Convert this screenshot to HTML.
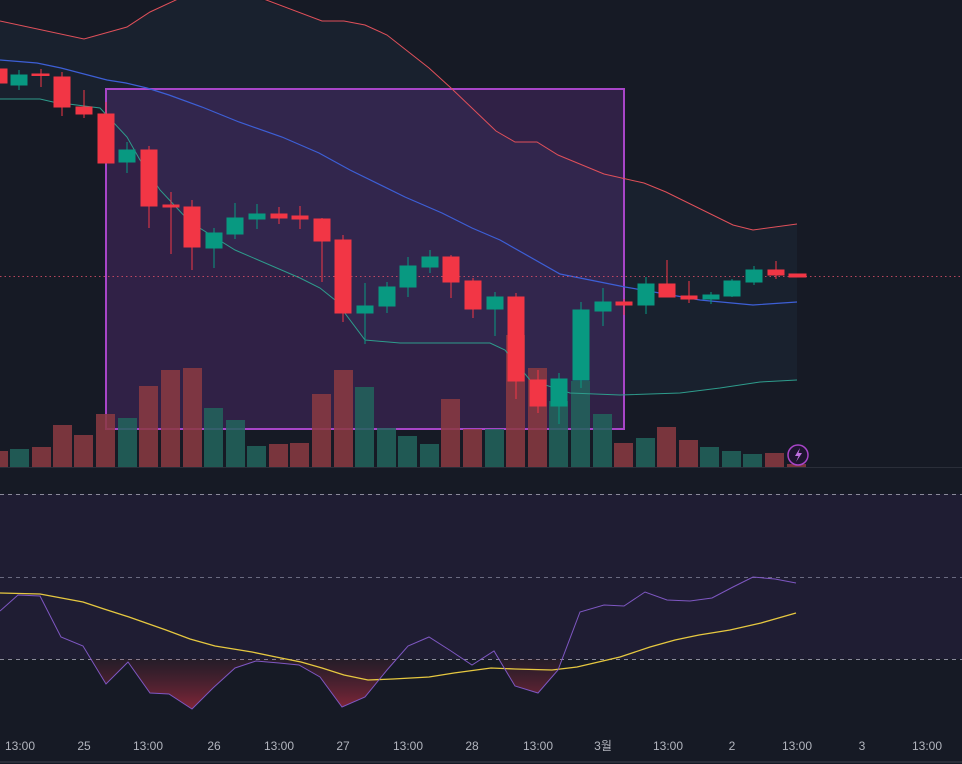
<!DOCTYPE html>
<html><head><meta charset="utf-8"><style>
html,body{margin:0;padding:0;background:#161a25;}
svg{display:block}
text{font-family:"Liberation Sans","Noto Sans CJK KR",sans-serif;font-size:12px;fill:#b2b5be;text-anchor:middle}
</style></head><body>
<svg width="962" height="764" viewBox="0 0 962 764" xmlns="http://www.w3.org/2000/svg">
<defs>
<linearGradient id="os" x1="0" y1="659" x2="0" y2="712" gradientUnits="userSpaceOnUse">
<stop offset="0" stop-color="#7a2a3a" stop-opacity="0.15"/><stop offset="1" stop-color="#b02a40" stop-opacity="0.75"/>
</linearGradient>
</defs>
<rect width="962" height="764" fill="#161a25"/>
<polygon fill="#1a2230" opacity="0.9" points="0,21 84,39 127,27 150,12 178,0 261,0 322,21 344,21 365,25 387,35 429,68 451,88 496,131 515,142 537,142 558,155 604,174 644,183 666,192 733,225 753,230 797,224 797,380 760,382 720,388 680,393 620,395 570,393 530,380 505,350 490,343 400,343 365,340 335,300 320,288 300,278 235,250 190,222 160,190 140,160 127,137 100,108 53,102 40,99 0,99"/>
<rect x="106" y="89" width="518" height="340" fill="rgba(140,60,190,0.22)" stroke="#a845c8" stroke-width="2"/>
<g opacity="0.85">
<rect x="0" y="451" width="8" height="16" fill="#8b3a42"/>
<rect x="10" y="449" width="19" height="18" fill="#22645d"/>
<rect x="32" y="447" width="19" height="20" fill="#8b3a42"/>
<rect x="53" y="425" width="19" height="42" fill="#8b3a42"/>
<rect x="74" y="435" width="19" height="32" fill="#8b3a42"/>
<rect x="96" y="414" width="19" height="53" fill="#8b3a42"/>
<rect x="118" y="418" width="19" height="49" fill="#22645d"/>
<rect x="139" y="386" width="19" height="81" fill="#8b3a42"/>
<rect x="161" y="370" width="19" height="97" fill="#8b3a42"/>
<rect x="183" y="368" width="19" height="99" fill="#8b3a42"/>
<rect x="204" y="408" width="19" height="59" fill="#22645d"/>
<rect x="226" y="420" width="19" height="47" fill="#22645d"/>
<rect x="247" y="446" width="19" height="21" fill="#22645d"/>
<rect x="269" y="444" width="19" height="23" fill="#8b3a42"/>
<rect x="290" y="443" width="19" height="24" fill="#8b3a42"/>
<rect x="312" y="394" width="19" height="73" fill="#8b3a42"/>
<rect x="334" y="370" width="19" height="97" fill="#8b3a42"/>
<rect x="355" y="387" width="19" height="80" fill="#22645d"/>
<rect x="377" y="428" width="19" height="39" fill="#22645d"/>
<rect x="398" y="436" width="19" height="31" fill="#22645d"/>
<rect x="420" y="444" width="19" height="23" fill="#22645d"/>
<rect x="441" y="399" width="19" height="68" fill="#8b3a42"/>
<rect x="463" y="429" width="19" height="38" fill="#8b3a42"/>
<rect x="485" y="429" width="19" height="38" fill="#22645d"/>
<rect x="506" y="335" width="19" height="132" fill="#8b3a42"/>
<rect x="528" y="368" width="19" height="99" fill="#8b3a42"/>
<rect x="549" y="401" width="19" height="66" fill="#22645d"/>
<rect x="571" y="381" width="19" height="86" fill="#22645d"/>
<rect x="593" y="414" width="19" height="53" fill="#22645d"/>
<rect x="614" y="443" width="19" height="24" fill="#8b3a42"/>
<rect x="636" y="438" width="19" height="29" fill="#22645d"/>
<rect x="657" y="427" width="19" height="40" fill="#8b3a42"/>
<rect x="679" y="440" width="19" height="27" fill="#8b3a42"/>
<rect x="700" y="447" width="19" height="20" fill="#22645d"/>
<rect x="722" y="451" width="19" height="16" fill="#22645d"/>
<rect x="743" y="454" width="19" height="13" fill="#22645d"/>
<rect x="765" y="453" width="19" height="14" fill="#8b3a42"/>
<rect x="787" y="464" width="19" height="3" fill="#8b3a42"/>
</g>
<polyline fill="none" stroke="#e0505a" stroke-width="1" points="0,21 84,39 127,27 150,12 178,-1 261,-2 322,21 344,21 365,25 387,35 429,68 451,88 496,131 515,142 537,142 558,155 604,174 644,183 666,192 733,225 753,230 797,224"/>
<polyline fill="none" stroke="#3d5fd6" stroke-width="1.2" points="0,60 37,63 61,68 107,80 126,83 147,88 169,95 202,107 239,122 282,137 319,153 350,170 405,197 442,213 472,228 500,240 560,274 625,287 700,300 753,305 797,302"/>
<polyline fill="none" stroke="#2e9c8c" stroke-width="1" points="0,99 40,99 53,102 100,108 127,137 140,160 160,190 190,222 235,250 300,278 320,288 335,300 365,340 400,343 490,343 505,350 530,380 570,393 620,395 680,393 720,388 760,382 797,380"/>
<line x1="0" y1="276.5" x2="962" y2="276.5" stroke="#e0506a" stroke-width="1" stroke-dasharray="1.5,3" opacity="0.8"/>
<g stroke-width="1">
<g fill="#f23645" stroke="#f23645">
<rect x="0" y="69" width="7" height="14"/>
<line x1="41" y1="69" x2="41" y2="87"/><rect x="32" y="74" width="17" height="1.5"/>
<line x1="62" y1="72" x2="62" y2="116"/><rect x="54" y="77" width="16" height="30"/>
<line x1="84" y1="90" x2="84" y2="118"/><rect x="76" y="107" width="16" height="7"/>
<line x1="106" y1="102" x2="106" y2="163"/><rect x="98" y="114" width="16" height="49"/>
<line x1="149" y1="146" x2="149" y2="228"/><rect x="141" y="150" width="16" height="56"/>
<line x1="171" y1="192" x2="171" y2="254"/><rect x="163" y="205" width="16" height="2"/>
<line x1="192" y1="200" x2="192" y2="270"/><rect x="184" y="207" width="16" height="40"/>
<line x1="279" y1="207" x2="279" y2="224"/><rect x="271" y="214" width="16" height="4"/>
<line x1="300" y1="206" x2="300" y2="229"/><rect x="292" y="216" width="16" height="3"/>
<line x1="322" y1="218" x2="322" y2="282"/><rect x="314" y="219" width="16" height="22"/>
<line x1="343" y1="235" x2="343" y2="322"/><rect x="335" y="240" width="16" height="73"/>
<line x1="451" y1="255" x2="451" y2="298"/><rect x="443" y="257" width="16" height="25"/>
<line x1="473" y1="278" x2="473" y2="318"/><rect x="465" y="281" width="16" height="28"/>
<line x1="516" y1="293" x2="516" y2="399"/><rect x="508" y="297" width="16" height="84"/>
<line x1="538" y1="370" x2="538" y2="413"/><rect x="530" y="380" width="16" height="26"/>
<line x1="624" y1="299" x2="624" y2="315"/><rect x="616" y="302" width="16" height="3"/>
<line x1="667" y1="260" x2="667" y2="297"/><rect x="659" y="284" width="16" height="13"/>
<line x1="689" y1="281" x2="689" y2="303"/><rect x="681" y="296" width="16" height="3"/>
<line x1="776" y1="261" x2="776" y2="279"/><rect x="768" y="270" width="16" height="5"/>
<rect x="789" y="274" width="17" height="3"/>
</g>
<g fill="#089981" stroke="#089981">
<line x1="19" y1="70" x2="19" y2="90"/><rect x="11" y="75" width="16" height="10"/>
<line x1="127" y1="142" x2="127" y2="173"/><rect x="119" y="150" width="16" height="12"/>
<line x1="214" y1="228" x2="214" y2="268"/><rect x="206" y="233" width="16" height="15"/>
<line x1="235" y1="203" x2="235" y2="239"/><rect x="227" y="218" width="16" height="16"/>
<line x1="257" y1="204" x2="257" y2="229"/><rect x="249" y="214" width="16" height="5"/>
<line x1="365" y1="283" x2="365" y2="344"/><rect x="357" y="306" width="16" height="7"/>
<line x1="387" y1="282" x2="387" y2="313"/><rect x="379" y="287" width="16" height="19"/>
<line x1="408" y1="257" x2="408" y2="297"/><rect x="400" y="266" width="16" height="21"/>
<line x1="430" y1="250" x2="430" y2="273"/><rect x="422" y="257" width="16" height="10"/>
<line x1="495" y1="292" x2="495" y2="336"/><rect x="487" y="297" width="16" height="12"/>
<line x1="559" y1="373" x2="559" y2="424"/><rect x="551" y="379" width="16" height="27"/>
<line x1="581" y1="302" x2="581" y2="388"/><rect x="573" y="310" width="16" height="70"/>
<line x1="603" y1="288" x2="603" y2="326"/><rect x="595" y="302" width="16" height="9"/>
<line x1="646" y1="277" x2="646" y2="314"/><rect x="638" y="284" width="16" height="21"/>
<line x1="711" y1="292" x2="711" y2="304"/><rect x="703" y="295" width="16" height="4"/>
<line x1="732" y1="279" x2="732" y2="297"/><rect x="724" y="281" width="16" height="15"/>
<line x1="754" y1="266" x2="754" y2="285"/><rect x="746" y="270" width="16" height="12"/>
</g>
</g>
<circle cx="798" cy="455" r="10" fill="#1e1530" stroke="#a845c8" stroke-width="1.5"/>
<path d="M800,448 L795,456 L798.5,456 L796,462 L802,453 L798.5,453 Z" fill="#c070e0"/>
<line x1="0" y1="467.5" x2="962" y2="467.5" stroke="#2a2e39" stroke-width="1"/>
<rect x="0" y="494" width="962" height="165" fill="#1f1d33"/>
<line x1="0" y1="494.5" x2="962" y2="494.5" stroke="#8a8a9a" stroke-dasharray="4,4" stroke-width="1"/>
<line x1="0" y1="577.5" x2="962" y2="577.5" stroke="#6a6a80" stroke-dasharray="4,4" stroke-width="1"/>
<line x1="0" y1="659.5" x2="962" y2="659.5" stroke="#8a8a9a" stroke-dasharray="4,4" stroke-width="1"/>
<polygon fill="url(#os)" points="91,659 106,684 128,662 150,693 169,694 192,709 213,688 235,668 256,661 279,663 299,665 320,677 342,707 365,697 387,670 397,659"/>
<polygon fill="url(#os)" points="499,659 515,686 538,693 558,670 562,659"/>
<polyline fill="none" stroke="#e6c840" stroke-width="1.3" points="0,593 40,594 83,602 104,609 129,617 166,630 190,639 215,646 252,652 276,657 301,662 322,668 344,675 368,680 393,679 429,677 454,673 491,668 515,669 552,670 577,667 620,657 650,647 675,640 699,635 730,630 761,623 796,613"/>
<polyline fill="none" stroke="#7e57c2" stroke-width="1" points="0,611 18,595 40,596 61,637 83,646 106,684 128,662 150,693 169,694 192,709 213,688 235,668 256,661 279,663 299,665 320,677 342,707 365,697 387,670 408,646 429,637 451,651 472,665 494,651 515,686 538,693 558,670 580,612 604,605 624,606 645,592 667,600 690,601 712,598 733,587 753,577 775,579 796,583"/>
<text x="20" y="750">13:00</text>
<text x="84" y="750">25</text>
<text x="148" y="750">13:00</text>
<text x="214" y="750">26</text>
<text x="279" y="750">13:00</text>
<text x="343" y="750">27</text>
<text x="408" y="750">13:00</text>
<text x="472" y="750">28</text>
<text x="538" y="750">13:00</text>
<text x="603" y="750">3월</text>
<text x="668" y="750">13:00</text>
<text x="732" y="750">2</text>
<text x="797" y="750">13:00</text>
<text x="862" y="750">3</text>
<text x="927" y="750">13:00</text>
<line x1="0" y1="762" x2="962" y2="762" stroke="#2a2e39" stroke-width="2"/>
</svg>
</body></html>
